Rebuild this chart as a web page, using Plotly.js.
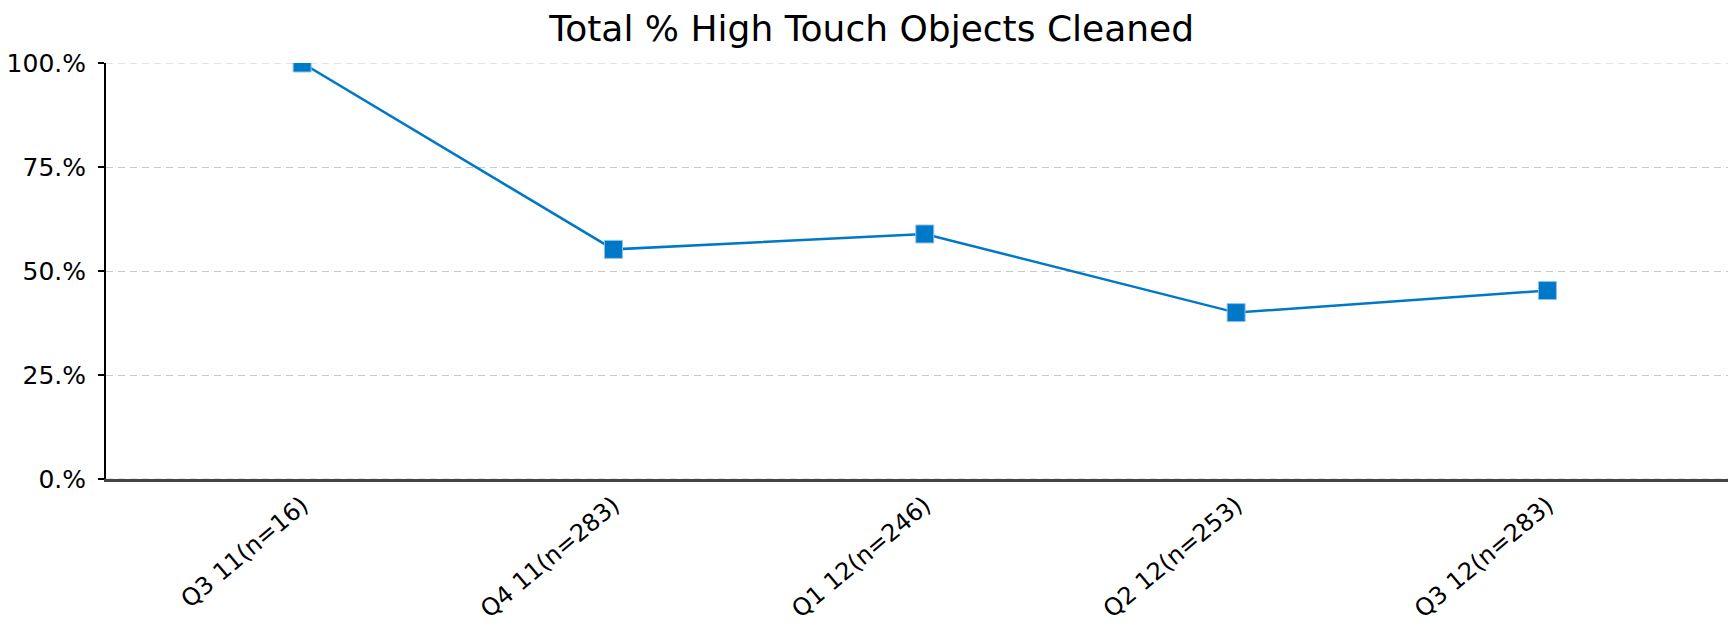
<!DOCTYPE html>
<html>
<head>
<meta charset="utf-8">
<script src="https://cdn.plot.ly/plotly-3.0.1.min.js"></script>
<style>html,body{margin:0;padding:0;background:#fff;}#chart{width:1733px;height:627px;}</style>
</head>
<body>
<div id="chart"></div>
<script>
var categories = ["Q3 11(n=16)", "Q4 11(n=283)", "Q1 12(n=246)", "Q2 12(n=253)", "Q3 12(n=283)"];
var percentCleaned = [100, 55.2, 58.9, 40.0, 45.3];
var yTickVals = [0, 25, 50, 75, 100];
var yTickText = ["0.%", "25.%", "50.%", "75.%", "100.%"];

var trace = {
  type: "scatter",
  mode: "lines+markers",
  x: categories,
  y: percentCleaned,
  line: {color: "#0078C8", width: 2.5},
  marker: {symbol: "square", size: 18, color: "#0078C8", line: {color: "#8cc4ea", width: 1}},
  cliponaxis: true,
  hoverinfo: "x+y"
};

var gridStyle = {color: "#c8c8c8", width: 1, dash: "7px,5px"};

var layout = {
  width: 1733,
  height: 627,
  margin: {l: 106, r: 5, t: 63, b: 148},
  paper_bgcolor: "#ffffff",
  plot_bgcolor: "#ffffff",
  showlegend: false,
  font: {family: "DejaVu Sans, sans-serif", color: "#000"},
  title: {
    text: "Total % High Touch Objects Cleaned",
    font: {family: "DejaVu Sans, sans-serif", size: 36, color: "#000"},
    x: 0.503, xref: "container", xanchor: "center",
    y: 0.955, yref: "container", yanchor: "middle"
  },
  xaxis: {
    type: "category",
    range: [-0.63, 4.58],
    showgrid: false,
    showline: true,
    linecolor: "#444",
    linewidth: 3,
    ticks: "",
    tickangle: -40,
    tickfont: {family: "DejaVu Sans, sans-serif", size: 24, color: "#000"},
    zeroline: false,
    fixedrange: true
  },
  yaxis: {
    range: [0, 100],
    tickvals: yTickVals,
    ticktext: yTickText,
    showgrid: true,
    gridcolor: "#c8c8c8",
    gridwidth: 1,
    griddash: "7px,5px",
    showline: true,
    linecolor: "#000",
    linewidth: 2,
    ticks: "outside",
    ticklen: 6,
    tickwidth: 2,
    tickcolor: "#000",
    ticklabelstandoff: 7,
    tickfont: {family: "DejaVu Sans, sans-serif", size: 25, color: "#000"},
    zeroline: false,
    fixedrange: true
  },
  shapes: [
    {type: "line", xref: "paper", yref: "y", x0: 0, x1: 1, y0: 0, y1: 0, layer: "above", line: gridStyle},
    {type: "line", xref: "paper", yref: "y", x0: 0, x1: 1, y0: 100, y1: 100, layer: "below", line: gridStyle}
  ]
};

Plotly.newPlot("chart", [trace], layout, {displayModeBar: false, staticPlot: true});
</script>
</body>
</html>
